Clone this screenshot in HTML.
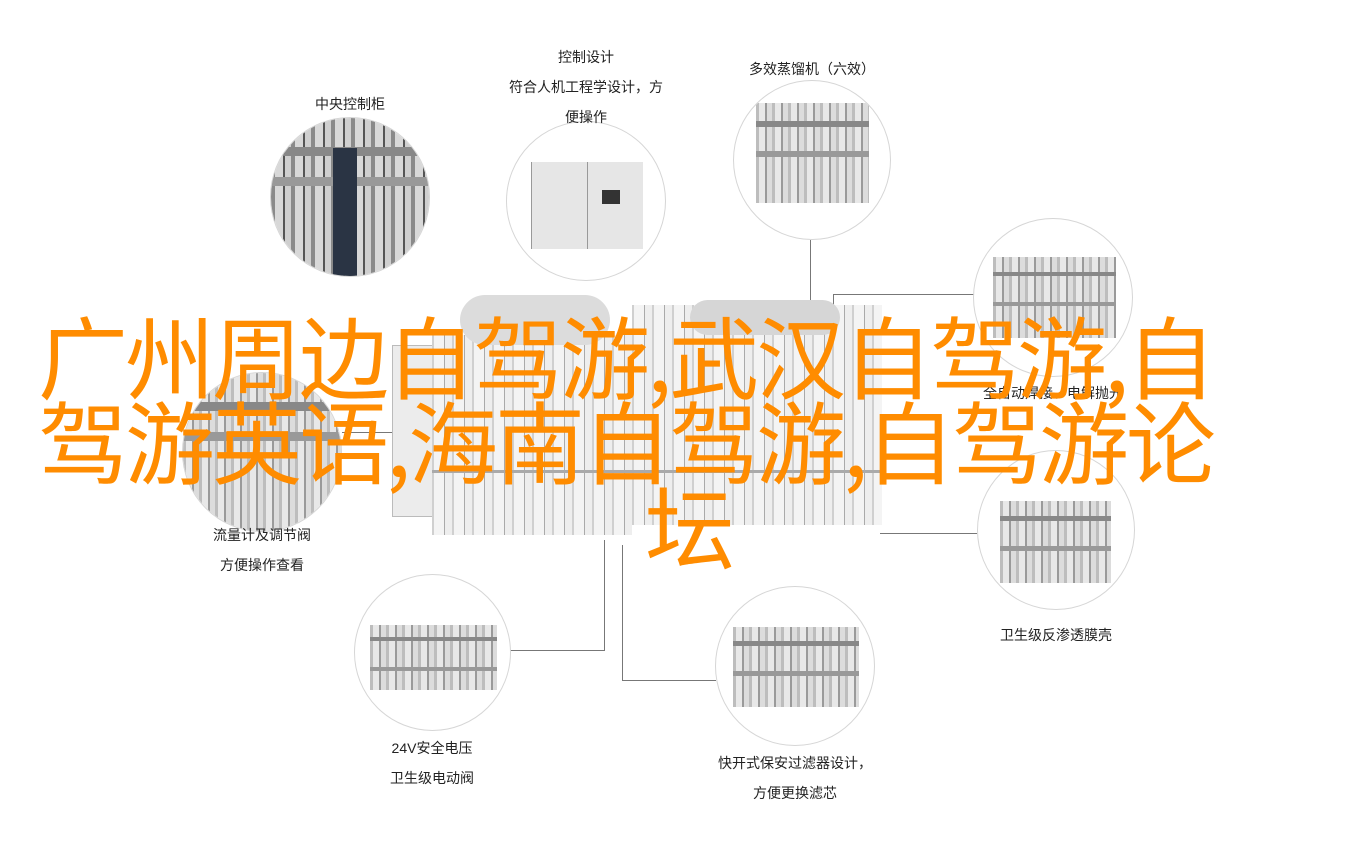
<!DOCTYPE html>
<html><head><meta charset="utf-8"><style>
html,body{margin:0;padding:0;background:#fff;}
body{width:1366px;height:856px;position:relative;overflow:hidden;font-family:"Liberation Sans","Noto Sans CJK SC",sans-serif;}
.c{position:absolute;border:1px solid #d6d6d6;border-radius:50%;background:#fff;overflow:hidden;box-sizing:border-box;}
.img{position:absolute;background:repeating-linear-gradient(90deg,#bdbdbd 0 3px,#e8e8e8 3px 9px,#9a9a9a 9px 11px,#dcdcdc 11px 16px);}
.img::after{content:"";position:absolute;left:0;right:0;top:18%;height:6%;background:#888;box-shadow:0 30px 0 #999;}
.lab{position:absolute;font-size:14px;color:#222;text-align:center;white-space:nowrap;}
.ln{position:absolute;background:#777;}
.big{position:absolute;white-space:nowrap;font-family:"Noto Sans CJK SC",sans-serif;font-size:90px;line-height:90px;color:#ff8c00;letter-spacing:-3px;}
.mach{position:absolute;background:repeating-linear-gradient(90deg,#d0d0d0 0 2px,#f4f4f4 2px 12px,#aaa 12px 13px,#eee 13px 20px);}
</style></head><body>
<div class="ln" style="left:810px;top:240px;width:1px;height:60px"></div>
<div class="ln" style="left:833px;top:294px;width:142px;height:1px"></div>
<div class="ln" style="left:833px;top:294px;width:1px;height:40px"></div>
<div class="ln" style="left:880px;top:533px;width:97px;height:1px"></div>
<div class="ln" style="left:342px;top:432px;width:90px;height:1px"></div>
<div class="ln" style="left:604px;top:540px;width:1px;height:111px"></div>
<div class="ln" style="left:510px;top:650px;width:95px;height:1px"></div>
<div class="ln" style="left:622px;top:545px;width:1px;height:135px"></div>
<div class="ln" style="left:622px;top:680px;width:94px;height:1px"></div>

<div style="position:absolute;left:392px;top:345px;width:40px;height:170px;background:#ececec;border:1px solid #bbb"></div>
<div class="mach" style="left:432px;top:335px;width:200px;height:200px"></div>
<div class="mach" style="left:632px;top:305px;width:250px;height:220px"></div>
<div style="position:absolute;left:432px;top:470px;width:450px;height:3px;background:#aaa"></div>
<div style="position:absolute;left:460px;top:295px;width:150px;height:50px;border-radius:25px;background:#dcdcdc"></div>
<div style="position:absolute;left:690px;top:300px;width:150px;height:35px;border-radius:18px;background:#d6d6d6"></div>

<div class="c" style="left:270px;top:117px;width:160px;height:160px"><div class="img" style="left:0;top:0;width:160px;height:160px;background:repeating-linear-gradient(90deg,#8a8a8a 0 4px,#d8d8d8 4px 12px,#555 12px 14px,#cfcfcf 14px 20px)"></div><div style="position:absolute;left:62px;top:30px;width:24px;height:130px;background:#2a3444"></div></div>
<div class="c" style="left:506px;top:121px;width:160px;height:160px"><div style="position:absolute;left:24px;top:40px;width:111px;height:87px;background:#e6e6e6;border-left:1px solid #999"><div style="position:absolute;left:55px;top:0;width:1px;height:87px;background:#999"></div><div style="position:absolute;left:70px;top:28px;width:18px;height:14px;background:#333"></div></div></div>
<div class="c" style="left:733px;top:80px;width:158px;height:160px"><div class="img" style="left:22px;top:22px;width:113px;height:100px"></div></div>
<div class="c" style="left:973px;top:218px;width:160px;height:159px"><div class="img" style="left:19px;top:38px;width:123px;height:81px"></div></div>
<div class="c" style="left:182px;top:372px;width:160px;height:160px"><div class="img" style="left:0;top:0;width:160px;height:160px"></div></div>
<div class="c" style="left:977px;top:450px;width:158px;height:160px"><div class="img" style="left:22px;top:50px;width:111px;height:82px"></div></div>
<div class="c" style="left:354px;top:574px;width:157px;height:157px"><div class="img" style="left:15px;top:50px;width:127px;height:65px"></div></div>
<div class="c" style="left:715px;top:586px;width:160px;height:160px"><div class="img" style="left:17px;top:40px;width:126px;height:80px"></div></div>

<div class="lab" style="left:270px;top:94px;width:160px">中央控制柜</div>
<div class="lab" style="left:486px;top:47px;width:200px">控制设计</div>
<div class="lab" style="left:486px;top:77px;width:200px">符合人机工程学设计，方</div>
<div class="lab" style="left:486px;top:107px;width:200px">便操作</div>
<div class="lab" style="left:712px;top:59px;width:200px">多效蒸馏机（六效）</div>
<div class="lab" style="left:953px;top:383px;width:200px">全自动焊接、电解抛光</div>
<div class="lab" style="left:162px;top:525px;width:200px">流量计及调节阀</div>
<div class="lab" style="left:162px;top:555px;width:200px">方便操作查看</div>
<div class="lab" style="left:956px;top:625px;width:200px">卫生级反渗透膜壳</div>
<div class="lab" style="left:332px;top:738px;width:200px">24V安全电压</div>
<div class="lab" style="left:332px;top:768px;width:200px">卫生级电动阀</div>
<div class="lab" style="left:695px;top:753px;width:200px">快开式保安过滤器设计，</div>
<div class="lab" style="left:695px;top:783px;width:200px">方便更换滤芯</div>

<div class="big" style="left:38px;top:308px">广州周边自驾游,武汉自驾游,自</div>
<div class="big" style="left:38px;top:393px">驾游英语,海南自驾游,自驾游论</div>
<div class="big" style="left:645px;top:478px">坛</div>
</body></html>
